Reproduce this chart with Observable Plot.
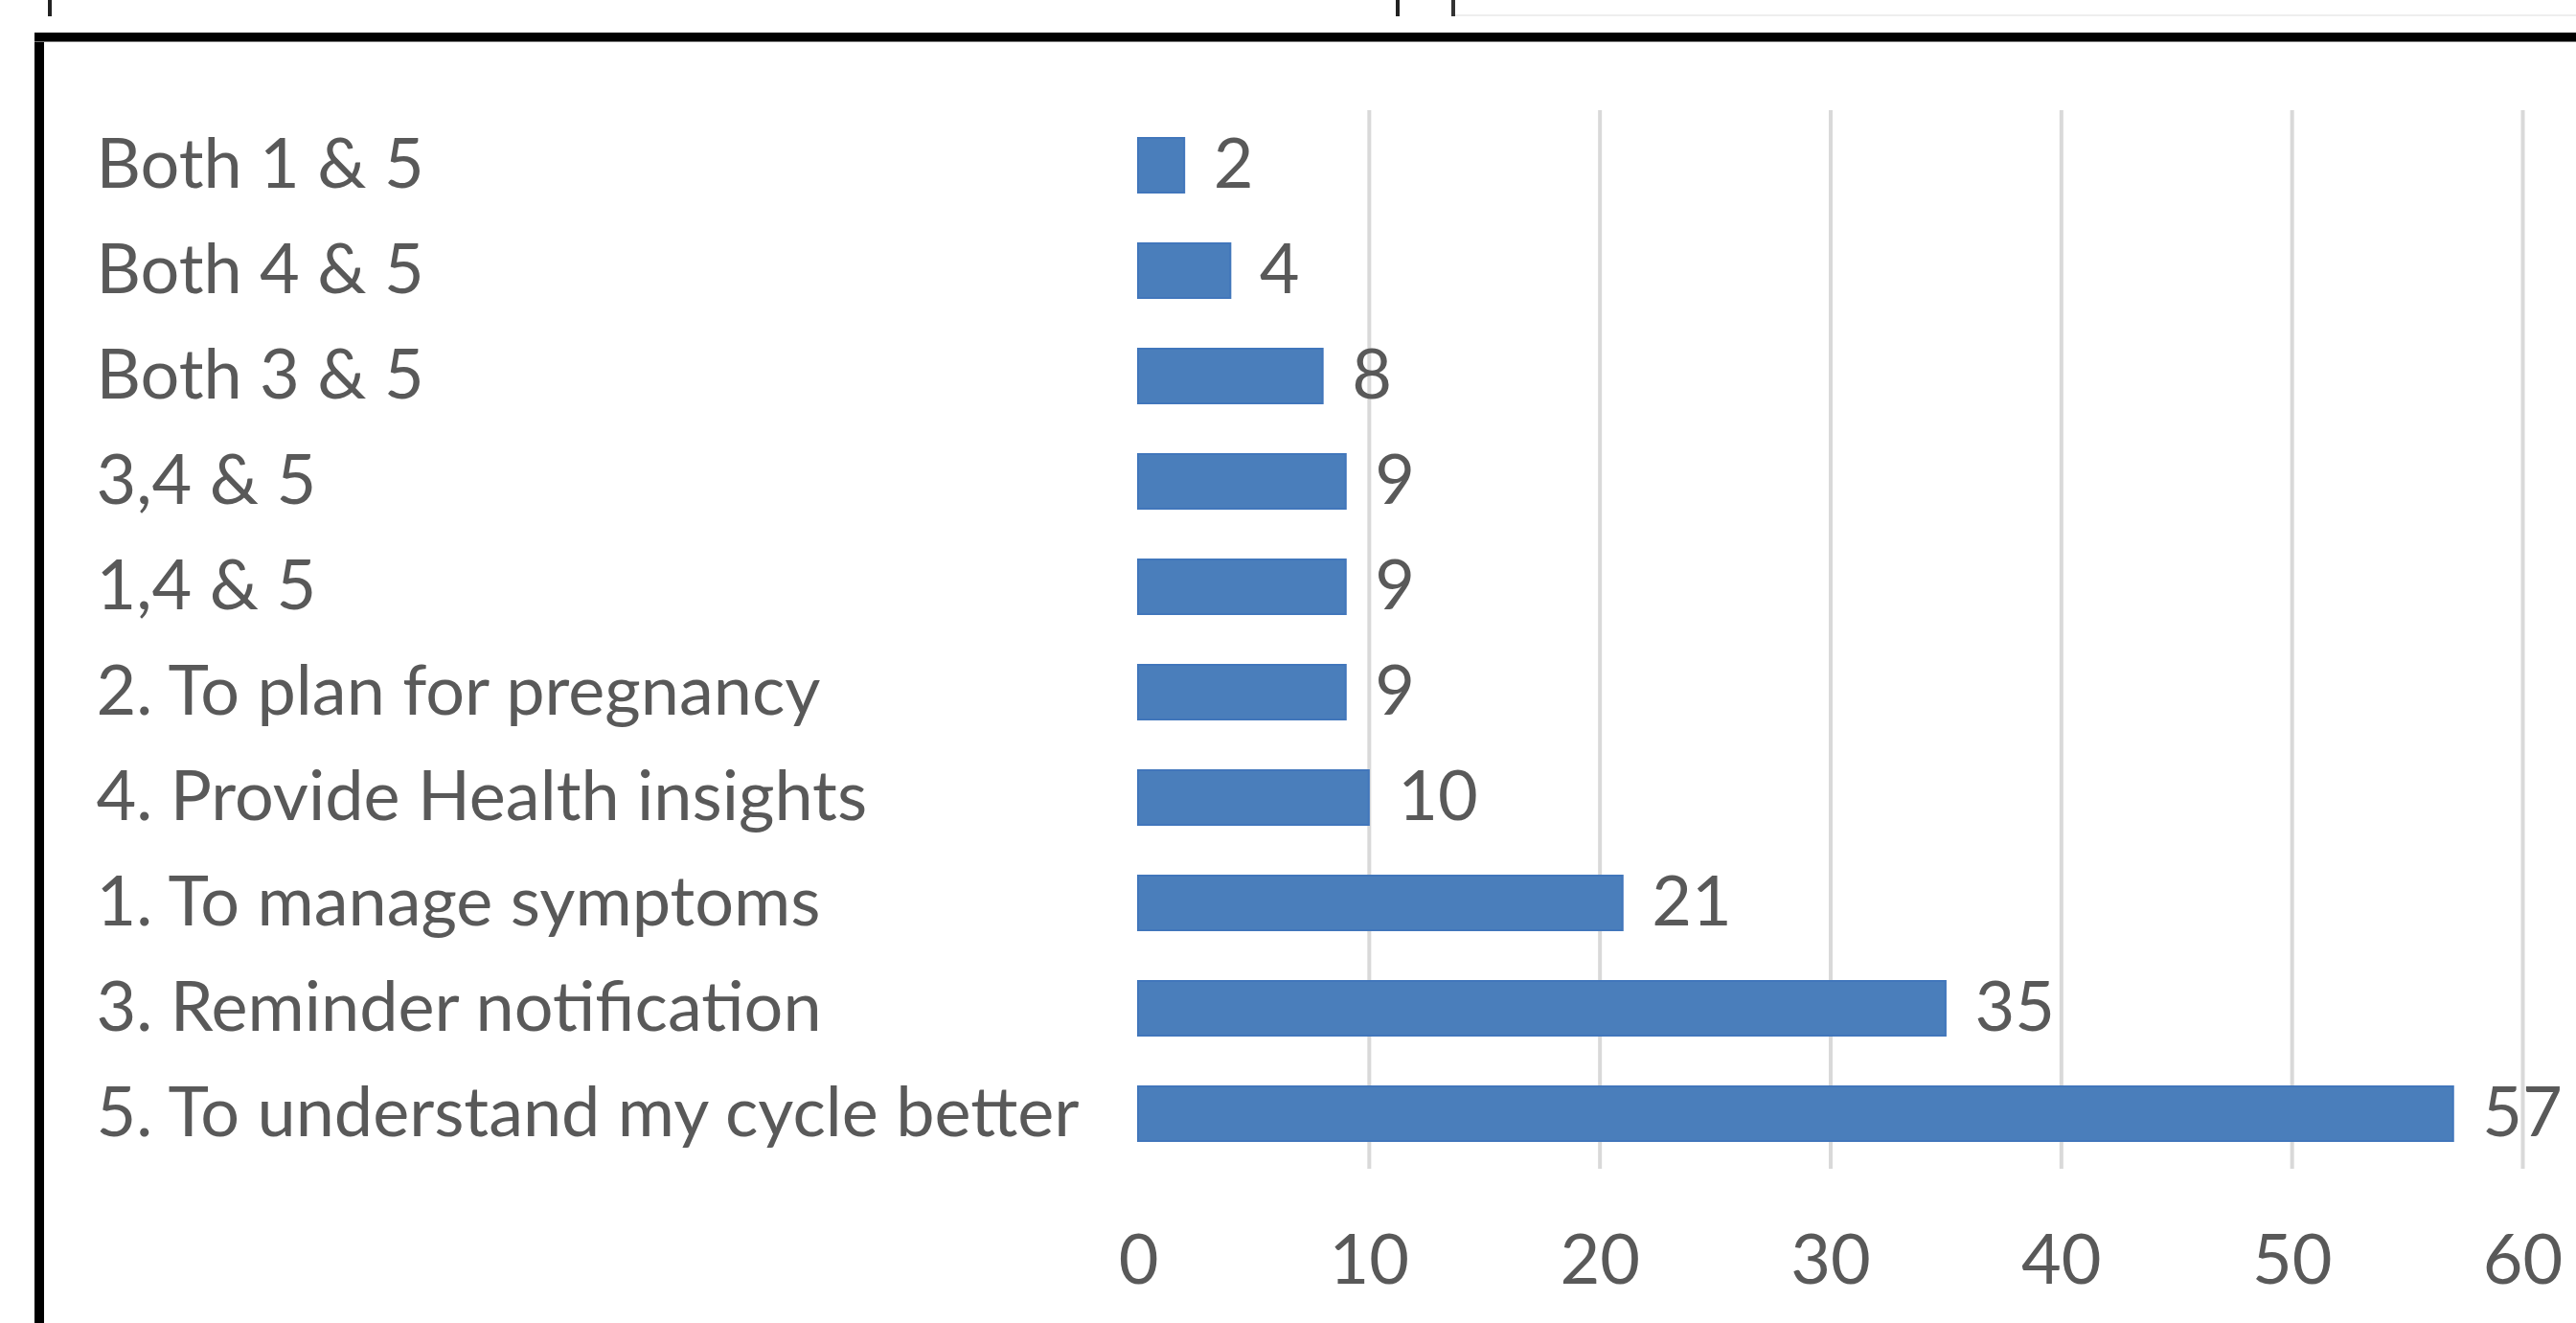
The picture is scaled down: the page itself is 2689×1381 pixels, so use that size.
<!DOCTYPE html>
<html>
<head>
<meta charset="utf-8">
<script src="https://cdn.jsdelivr.net/npm/d3@7"></script>
<script src="https://cdn.jsdelivr.net/npm/@observablehq/plot@0.6"></script>
<style>
  html, body { margin: 0; padding: 0; background: #fff; }
  #wrap { position: relative; width: 2689px; height: 1381px; overflow: hidden; background: #fff; }
  #wrap svg { position: absolute; left: 0; top: 0; }
  .deco { position: absolute; }
</style>
</head>
<body>
<div id="wrap"></div>
<script>
const categories = [
  "Both 1 & 5",
  "Both 4 & 5",
  "Both 3 & 5",
  "3,4 & 5",
  "1,4 & 5",
  "2. To plan for pregnancy",
  "4. Provide Health insights",
  "1. To manage symptoms",
  "3. Reminder notification",
  "5. To understand my cycle better"
];
const counts = [2, 4, 8, 9, 9, 9, 10, 21, 35, 57];
const xTicks = [0, 10, 20, 30, 40, 50, 60];
const gridTicks = [10, 20, 30, 40, 50, 60];

const data = categories.map((c, i) => ({cat: c, count: counts[i]}));

const FONT = "Lato, 'Open Sans', sans-serif";
const FS = 72;
const TXT = "#595959";

const chart = Plot.plot({
  width: 2689,
  height: 1381,
  marginLeft: 1188,
  marginRight: 56,
  marginTop: 115,
  marginBottom: 161,
  style: {fontFamily: FONT, color: TXT, background: "transparent", overflow: "visible"},
  x: {domain: [0, 60]},
  y: {domain: categories, axis: null, paddingInner: 0.48, paddingOuter: 0.24},
  marks: [
    Plot.gridX(gridTicks, {stroke: "#d9d9d9", strokeOpacity: 1, strokeWidth: 4}),
    Plot.barX(data, {x: "count", y: "cat", fill: "#4A7EBB", stroke: "#4176bb", strokeWidth: 2}),
    Plot.text(data, {x: "count", y: "cat", text: d => String(d.count), dx: 30, textAnchor: "start", fontSize: FS, fill: TXT}),
    Plot.text(data, {y: "cat", text: "cat", frameAnchor: "left", dx: -1088, textAnchor: "start", fontSize: FS, fill: TXT}),
    Plot.axisX(xTicks, {tickSize: 0, tickPadding: 68, fontSize: FS, fill: TXT, label: null})
  ]
});

const wrap = document.getElementById("wrap");
wrap.appendChild(chart);

// decorative frame fragments (page border remnants)
function deco(l, t, w, h, c) {
  const d = document.createElement("div");
  d.className = "deco";
  Object.assign(d.style, {left: l + "px", top: t + "px", width: w + "px", height: h + "px", background: c});
  wrap.appendChild(d);
}
deco(36, 34, 2653, 9, "#000");
deco(36, 34, 10, 1347, "#000");
deco(36, 43, 2653, 1, "#777");
deco(50, 0, 4, 17, "#222");
deco(1457, 0, 4, 17, "#222");
deco(1515, 0, 4, 17, "#333");
deco(1519, 15, 1170, 2, "#eeeeee");
</script>
</body>
</html>
